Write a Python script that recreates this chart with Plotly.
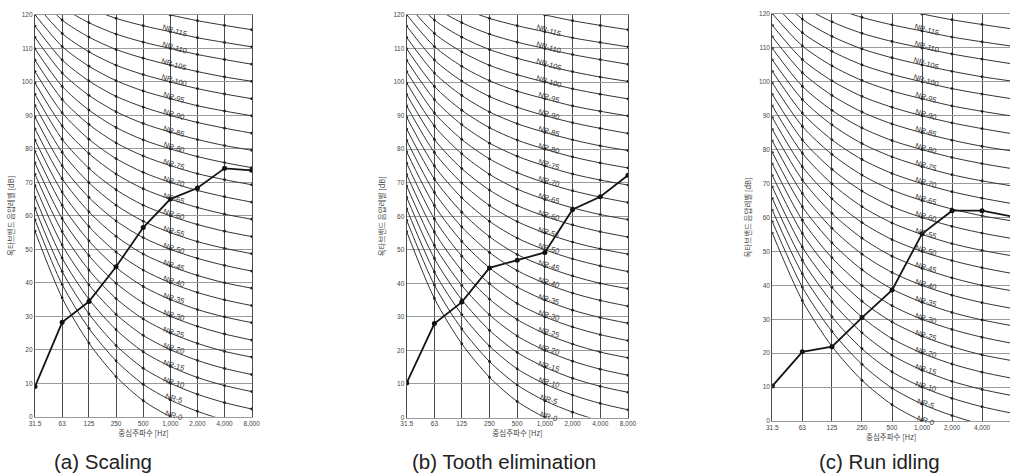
import math
import plotly.graph_objects as go

# ---------------- data ----------------
FREQS = [31.5, 63, 125, 250, 500, 1000, 2000, 4000, 8000]
FREQ_LABELS = ["31.5", "63", "125", "250", "500", "1,000", "2,000", "4,000", "8,000"]
Y_TICKS = list(range(0, 121, 10))

# NR (noise rating) reference curves, octave band levels [dB]
NR_RATINGS = list(range(0, 125, 5))
NR_TABLE = [
    [55.4, 35.5, 22.0, 12.0, 4.8, 0.0, -3.5, -6.1, -8.0],
    [58.8, 39.5, 26.4, 16.7, 9.7, 5.0, 1.6, -1.0, -2.9],
    [62.2, 43.4, 30.7, 21.3, 14.5, 10.0, 6.7, 4.2, 2.3],
    [65.6, 47.4, 35.1, 26.0, 19.4, 15.0, 11.7, 9.3, 7.5],
    [69.0, 51.3, 39.4, 30.6, 24.3, 20.0, 16.8, 14.4, 12.6],
    [72.4, 55.3, 43.8, 35.3, 29.2, 25.0, 21.9, 19.5, 17.8],
    [75.8, 59.2, 48.1, 39.9, 34.0, 30.0, 27.0, 24.7, 22.9],
    [79.2, 63.2, 52.5, 44.6, 38.9, 35.0, 32.0, 29.8, 28.1],
    [82.6, 67.1, 56.8, 49.2, 43.8, 40.0, 37.1, 34.9, 33.2],
    [86.0, 71.1, 61.2, 53.9, 48.6, 45.0, 42.2, 40.0, 38.4],
    [89.5, 75.0, 65.5, 58.5, 53.5, 50.0, 47.3, 45.2, 43.5],
    [92.9, 79.0, 69.9, 63.2, 58.4, 55.0, 52.3, 50.3, 48.7],
    [96.3, 82.9, 74.2, 67.8, 63.2, 60.0, 57.4, 55.4, 53.8],
    [99.7, 86.9, 78.6, 72.5, 68.1, 65.0, 62.5, 60.5, 59.0],
    [103.1, 90.8, 82.9, 77.1, 73.0, 70.0, 67.6, 65.7, 64.1],
    [106.5, 94.8, 87.3, 81.8, 77.9, 75.0, 72.6, 70.8, 69.3],
    [109.9, 98.7, 91.6, 86.4, 82.7, 80.0, 77.7, 75.9, 74.4],
    [113.3, 102.7, 96.0, 91.1, 87.6, 85.0, 82.8, 81.0, 79.6],
    [116.7, 106.6, 100.3, 95.7, 92.5, 90.0, 87.9, 86.2, 84.7],
    [120.1, 110.6, 104.7, 100.4, 97.3, 95.0, 92.9, 91.3, 89.9],
    [123.5, 114.5, 109.0, 105.0, 102.2, 100.0, 98.0, 96.4, 95.0],
    [126.9, 118.5, 113.4, 109.7, 107.1, 105.0, 103.1, 101.5, 100.2],
    [130.3, 122.4, 117.7, 114.3, 111.9, 110.0, 108.2, 106.7, 105.3],
    [133.7, 126.4, 122.1, 119.0, 116.8, 115.0, 113.2, 111.8, 110.5],
    [137.1, 130.3, 126.4, 123.6, 121.7, 120.0, 118.3, 116.9, 115.6],
]
NR_LABELED = list(range(0, 120, 5))

# measured spectra
SCALING = [9.0, 28.2, 34.4, 44.8, 56.5, 65.0, 68.3, 74.2, 73.6]
TOOTH_ELIMINATION = [10.3, 28.0, 34.4, 44.6, 46.9, 49.2, 62.0, 65.8, 72.2]
RUN_IDLING = [10.3, 20.4, 21.9, 30.5, 38.6, 55.2, 62.0, 62.0, 60.3]
SERIES = [SCALING, TOOTH_ELIMINATION, RUN_IDLING]
CAPTIONS = ["(a) Scaling", "(b) Tooth elimination", "(c) Run idling"]

X_TITLE = "중심주파수 [Hz]"
Y_TITLE = "옥타브밴드 음압레벨 [dB]"

# ---------------- layout (pixel geometry) ----------------
W, H = 1010, 476
# left, right(px), top, bottom(px), octaves shown, caption centre x
PANELS = [
    dict(l=35.0, r=252.0, t=15.0, b=416.7, octs=8.0, cap=103),
    dict(l=406.7, r=628.3, t=15.0, b=417.5, octs=8.0, cap=504),
    dict(l=772.3, r=1010.0, t=14.0, b=421.0, octs=7.92, cap=879),
]

KFONT = "Noto Sans CJK KR, Noto Sans, sans-serif"
fig = go.Figure()
annotations = []
layout_axes = {}

for i, (p, data) in enumerate(zip(PANELS, SERIES)):
    n = "" if i == 0 else str(i + 1)
    xa, ya = "x" + n, "y" + n
    for rating, curve in zip(NR_RATINGS, NR_TABLE):
        fig.add_trace(go.Scatter(
            x=FREQS, y=curve, xaxis=xa, yaxis=ya, mode="lines+markers",
            line=dict(color="#333", width=1.0, shape="spline", smoothing=0.8),
            marker=dict(size=2.8, color="#222"),
            hoverinfo="skip", showlegend=False))
    fig.add_trace(go.Scatter(
        x=FREQS, y=data, xaxis=xa, yaxis=ya, mode="lines+markers",
        line=dict(color="#151515", width=1.8),
        marker=dict(size=5, color="#111"),
        showlegend=False, name=CAPTIONS[i]))
    for rating in NR_LABELED:
        annotations.append(dict(
            x=math.log10(1000), y=rating, xref=xa, yref=ya,
            text=f"NR-{rating}", showarrow=False, textangle=17,
            xshift=4, yshift=1,
            font=dict(size=7.5, color="#333", family="Liberation Sans")))
    annotations.append(dict(
        x=p["cap"] / W, y=1 - 461 / H, xref="paper", yref="paper",
        text=CAPTIONS[i], showarrow=False, xanchor="center", yanchor="middle",
        font=dict(size=20.5, color="#222", family="Liberation Sans")))

    x0 = math.log10(FREQS[0])
    layout_axes["xaxis" + n] = dict(
        type="log", domain=[p["l"] / W, p["r"] / W],
        range=[x0, x0 + p["octs"] * math.log10(2)],
        anchor=ya, tickvals=FREQS, ticktext=FREQ_LABELS, ticks="",
        showgrid=True, gridcolor="#4a4a4a", gridwidth=1.2, zeroline=False,
        showline=True, mirror=True, linecolor="#9a9a9a", linewidth=1,
        tickfont=dict(size=6.5, color="#444", family="Liberation Sans"),
        title=dict(text=X_TITLE, standoff=4,
                   font=dict(size=7.5, color="#444", family=KFONT)),
        automargin=False, fixedrange=True)
    layout_axes["yaxis" + n] = dict(
        domain=[1 - p["b"] / H, 1 - p["t"] / H], range=[0, 120],
        anchor=xa, tickvals=Y_TICKS, ticks="",
        showgrid=True, gridcolor="#9a9a9a", gridwidth=1, zeroline=False,
        showline=True, mirror=True, linecolor="#4a4a4a", linewidth=1.2,
        tickfont=dict(size=6.5, color="#444", family="Liberation Sans"),
        title=dict(text=Y_TITLE, standoff=6,
                   font=dict(size=7.5, color="#444", family=KFONT)),
        automargin=False, fixedrange=True)

fig.update_layout(
    width=W, height=H, autosize=False,
    margin=dict(l=0, r=0, t=0, b=0),
    paper_bgcolor="white", plot_bgcolor="white",
    annotations=annotations, **layout_axes)

fig.write_html(
    "out.html",
    config={"displayModeBar": False},
    post_script="document.body.style.margin='0';document.body.style.overflow='hidden';")
